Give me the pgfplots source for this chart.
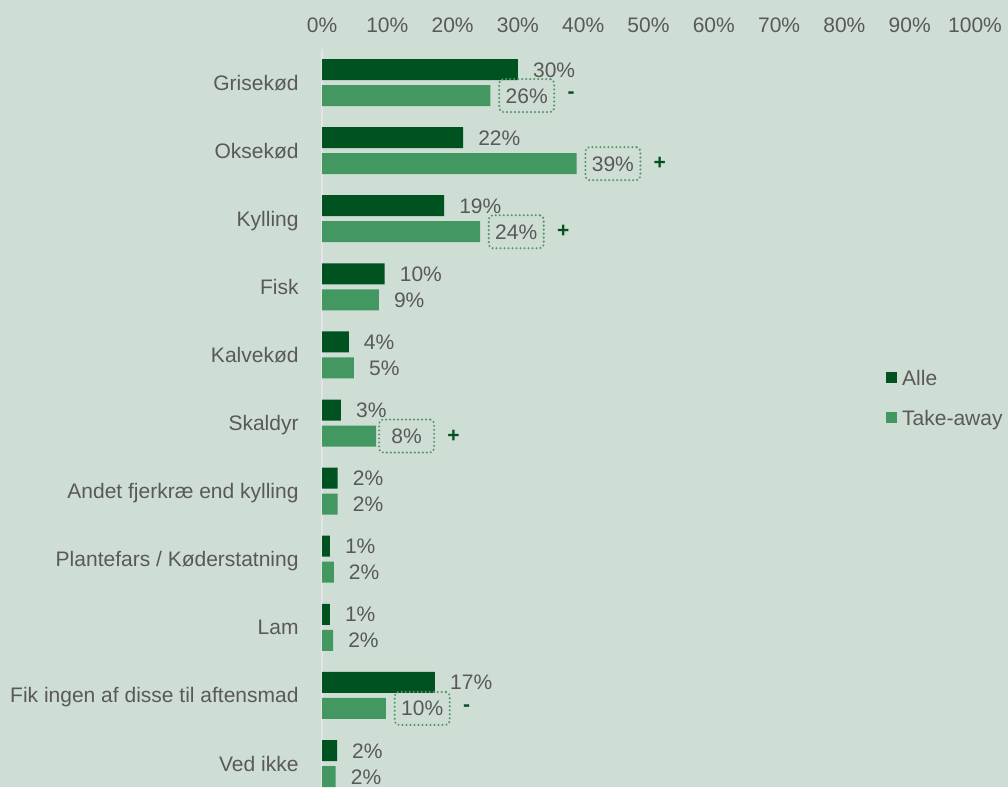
\documentclass[border=0pt]{standalone}
\usepackage{fontspec}
\setmainfont{Liberation Sans}
\usepackage{pgfplots}
\pgfplotsset{compat=1.18}
\definecolor{bgColor}{RGB}{207,222,212}
\definecolor{alleColor}{RGB}{0,82,32}
\definecolor{takeColor}{RGB}{67,151,97}
\definecolor{boxColor}{RGB}{84,152,106}
\definecolor{txtColor}{RGB}{89,89,89}
\definecolor{axisColor}{RGB}{226,229,227}
\newcommand\lbl{\fontsize{21}{25}\selectfont}

\pgfplotsset{
  sqlegend/.style={legend image code/.code={\fill[##1] (0pt,-5.5pt) rectangle (11pt,5.5pt);}},
  % boxed label with a sign (+/-) to the right
  boxed/.style={
    nodes near coords={\phantom{\pgfmathprintnumber[fixed,precision=0]{\pgfplotspointmeta}\%}},
    every node near coord/.append style={
      append after command={
        node[draw=boxColor, line width=2.3pt, dash pattern=on 0pt off 4pt, line cap=round,
             rounded corners=4pt, minimum width=55pt, minimum height=33pt, inner sep=0pt,
             label={[text=alleColor, font=\lbl\bfseries, inner sep=0pt, label distance=12pt]east:#1}]
          at (\tikzlastnode.center) {}
      }
    },
  },
}

\begin{document}
\begin{tikzpicture}
\fill[bgColor] (0,0) rectangle (1008pt,787pt);
\begin{axis}[
  at={(322pt,0pt)}, anchor=south west,
  scale only axis,
  width=653pt, height=738.5pt,
  xbar, bar width=21pt,
  xmin=0, xmax=100,
  ymin=-0.5, ymax=10.345,
  y dir=reverse,
  axis x line*=top, axis y line*=left,
  x axis line style={draw=none},
  y axis line style={draw=axisColor, line width=1.2pt},
  xtick={0,10,...,100},
  xticklabel={\pgfmathprintnumber{\tick}\%},
  ytick={0,...,10},
  yticklabels={Grisekød, Oksekød, Kylling, Fisk, Kalvekød, Skaldyr,
    Andet fjerkræ end kylling, Plantefars / Køderstatning, Lam,
    Fik ingen af disse til aftensmad, Ved ikke},
  tick style={draw=none},
  ticklabel style={font=\lbl, text=txtColor, text height=15pt, text depth=0pt, inner sep=0pt},
  yticklabel style={xshift=-19pt},
  xticklabel style={yshift=16pt},
  /pgf/number format/assume math mode=true,
  point meta=x,
  nodes near coords={\pgfmathprintnumber[fixed,precision=0]{\pgfplotspointmeta}\%},
  every node near coord/.append style={font=\lbl, text=txtColor, text height=15pt,
    text depth=0pt, inner sep=0pt, anchor=west, xshift=15pt},
  legend style={at={(0.8637,0.567)}, anchor=north west, draw=none, fill=none,
    font=\lbl, text=txtColor, row sep=21pt, inner sep=0pt,
    nodes={inner sep=2pt, text height=15pt, text depth=0pt},
    /tikz/every odd column/.append style={column sep=3pt}},
  legend cell align=left,
]
\addplot[draw=none, fill=alleColor, bar shift=13pt, sqlegend]
  coordinates {(30,0) (21.6,1) (18.7,2) (9.6,3) (4.1,4) (2.9,5)
               (2.4,6) (1.2,7) (1.2,8) (17.3,9) (2.3,10)};
\addlegendentry{Alle}
\addplot[draw=none, fill=takeColor, bar shift=-13pt, sqlegend]
  coordinates {(25.8,0) (39,1) (24.2,2) (8.7,3) (4.9,4) (8.3,5)
               (2.4,6) (1.8,7) (1.7,8) (9.8,9) (2.1,10)};
\addlegendentry{Take-away}
% significance markers
\addplot[draw=none, fill=none, bar shift=-13pt, forget plot, boxed=-]
  coordinates {(25.8,0) (9.8,9)};
\addplot[draw=none, fill=none, bar shift=-13pt, forget plot, boxed=+]
  coordinates {(39,1) (24.2,2) (8.3,5)};
\end{axis}
\pgfresetboundingbox
\path (0,0) rectangle (1008pt,787pt);
\end{tikzpicture}
\end{document}
